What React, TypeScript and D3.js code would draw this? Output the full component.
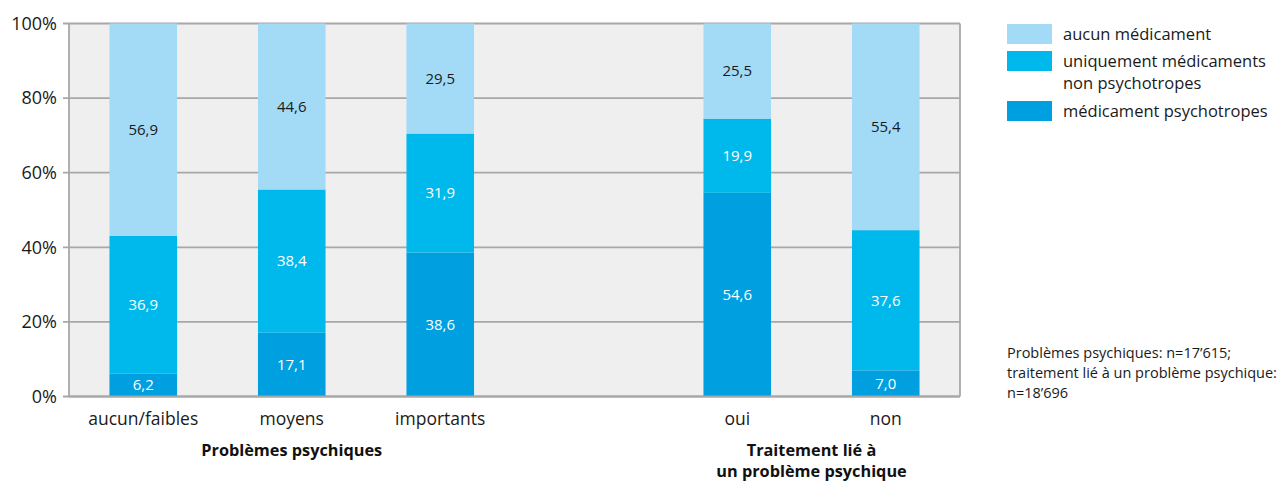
import React from "react";
import * as d3 from "d3";

const categories = ["aucun/faibles", "moyens", "importants", "", "oui", "non"];
const psychotropes = [6.2, 17.1, 38.6, null, 54.6, 7.0];
const nonPsychotropes = [36.9, 38.4, 31.9, null, 19.9, 37.6];
const aucun = [56.9, 44.6, 29.5, null, 25.5, 55.4];
const yTicks = [0, 20, 40, 60, 80, 100];

const seriesColors = ["#009fe0", "#00b9ec", "#a3daf6"];
const labelColors = ["#ffffff", "#ffffff", "#1a1a1a"];

const W = 1283;
const H = 482;
const left = 69;
const right = 960;
const top = 23.5;
const bottom = 396.5;
const font = "'Open Sans', 'Noto Sans', sans-serif";

export default function App() {
  const x = d3.scaleBand<string>()
    .domain(categories.map((c, i) => c || `gap${i}`))
    .range([left, right])
    .paddingInner(0.545)
    .paddingOuter(0.2725);
  const y = d3.scaleLinear().domain([0, 100]).range([bottom, top]);

  const rows = categories.map((c, i) => ({
    key: c || `gap${i}`,
    label: c,
    v0: psychotropes[i],
    v1: nonPsychotropes[i],
    v2: aucun[i],
  })).filter((r) => r.v0 !== null);

  const stack = d3.stack<any>().keys(["v0", "v1", "v2"]);
  const stacked = stack(rows as any);

  const cx = (k: string) => (x(k) as number) + x.bandwidth() / 2;

  const legend = [
    { color: seriesColors[2], lines: ["aucun médicament"], y: 24 },
    { color: seriesColors[1], lines: ["uniquement médicaments", "non psychotropes"], y: 51 },
    { color: seriesColors[0], lines: ["médicament psychotropes"], y: 101 },
  ];

  return (
    <svg width={W} height={H} style={{ position: "absolute", left: 0, top: 0 }} fontFamily={font}>
      <rect x={left} y={top} width={right - left} height={bottom - top} fill="#efefef" />
      {yTicks.map((t) => (
        <g key={t}>
          <line x1={left - 6} x2={right} y1={y(t)} y2={y(t)} stroke="#a8a8a8" strokeWidth={1.8} />
          <text x={57} y={y(t)} dy="0.35em" textAnchor="end" fontSize={18} fill="#1a1a1a">
            {t}%
          </text>
        </g>
      ))}
      <line x1={left} x2={left} y1={top} y2={bottom} stroke="#a8a8a8" strokeWidth={1.8} />
      <line x1={right} x2={right} y1={top} y2={bottom} stroke="#a8a8a8" strokeWidth={1.8} />

      {stacked.map((layer, si) => (
        <g key={si}>
          {layer.map((d: any) => {
            const k = d.data.key;
            const y0 = y(d[0]);
            const y1 = y(Math.min(d[1], 100));
            const val = d[1] - d[0];
            return (
              <g key={k}>
                <rect x={x(k)} y={y1} width={x.bandwidth()} height={y0 - y1} fill={seriesColors[si]} />
                <text
                  x={cx(k)}
                  y={(y0 + y1) / 2}
                  dy="0.35em"
                  textAnchor="middle"
                  fontSize={15}
                  fill={labelColors[si]}
                >
                  {d3.format(".1f")(val).replace(".", ",")}
                </text>
              </g>
            );
          })}
        </g>
      ))}
      <line x1={left} x2={right} y1={bottom} y2={bottom} stroke="#a8a8a8" strokeWidth={1.8} />

      {rows.map((r) => (
        <text key={r.key} x={cx(r.key)} y={419} dy="0.35em" textAnchor="middle" fontSize={17.5} fill="#1a1a1a">
          {r.label}
        </text>
      ))}
      <text x={cx("moyens")} y={450} dy="0.35em" textAnchor="middle" fontSize={16.3} fontWeight="bold" fill="#111">
        Problèmes psychiques
      </text>
      <text x={(cx("oui") + cx("non")) / 2} y={450} dy="0.35em" textAnchor="middle" fontSize={16.3} fontWeight="bold" fill="#111">
        Traitement lié à
      </text>
      <text x={(cx("oui") + cx("non")) / 2} y={471} dy="0.35em" textAnchor="middle" fontSize={16.3} fontWeight="bold" fill="#111">
        un problème psychique
      </text>

      {legend.map((l, i) => (
        <g key={i}>
          <rect x={1007} y={l.y} width={45} height={20} fill={l.color} />
          {l.lines.map((ln, j) => (
            <text key={j} x={1063} y={l.y + 10 + j * 22} dy="0.35em" fontSize={16.5} fill="#1a1a1a">
              {ln}
            </text>
          ))}
        </g>
      ))}

      {["Problèmes psychiques: n=17’615;", "traitement lié à un problème psychique:", "n=18’696"].map((t, i) => (
        <text key={i} x={1007} y={353 + i * 20} dy="0.35em" fontSize={14.5} fill="#1a1a1a">
          {t}
        </text>
      ))}
    </svg>
  );
}
